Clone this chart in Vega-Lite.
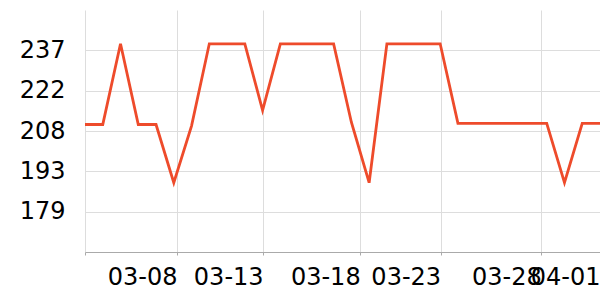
{
  "$schema": "https://vega.github.io/schema/vega-lite/v6.json",
  "width": 515,
  "height": 242,
  "autosize": {"type": "none"},
  "padding": {"left": 85, "top": 10, "right": 0, "bottom": 48},
  "background": "white",
  "config": {
    "view": {"stroke": null},
    "font": "DejaVu Sans"
  },
  "data": {
    "values": [
      {"date": "2024-03-03", "value": 210.1},
      {"date": "2024-03-04", "value": 210.1},
      {"date": "2024-03-05", "value": 239.2},
      {"date": "2024-03-06", "value": 210.1},
      {"date": "2024-03-07", "value": 210.1},
      {"date": "2024-03-08", "value": 189.1},
      {"date": "2024-03-09", "value": 209.6},
      {"date": "2024-03-10", "value": 239.2},
      {"date": "2024-03-11", "value": 239.2},
      {"date": "2024-03-12", "value": 239.2},
      {"date": "2024-03-13", "value": 215.2},
      {"date": "2024-03-14", "value": 239.2},
      {"date": "2024-03-15", "value": 239.2},
      {"date": "2024-03-16", "value": 239.2},
      {"date": "2024-03-17", "value": 239.2},
      {"date": "2024-03-18", "value": 210.9},
      {"date": "2024-03-19", "value": 189.1},
      {"date": "2024-03-20", "value": 239.2},
      {"date": "2024-03-21", "value": 239.2},
      {"date": "2024-03-22", "value": 239.2},
      {"date": "2024-03-23", "value": 239.2},
      {"date": "2024-03-24", "value": 210.5},
      {"date": "2024-03-25", "value": 210.5},
      {"date": "2024-03-26", "value": 210.5},
      {"date": "2024-03-27", "value": 210.5},
      {"date": "2024-03-28", "value": 210.5},
      {"date": "2024-03-29", "value": 210.5},
      {"date": "2024-03-30", "value": 189.1},
      {"date": "2024-03-31", "value": 210.5},
      {"date": "2024-04-01", "value": 210.5}
    ]
  },
  "mark": {"type": "line", "color": "#ee4b2b", "strokeWidth": 2.8, "clip": false},
  "encoding": {
    "x": {
      "field": "date",
      "type": "temporal",
      "title": null,
      "scale": {"type": "utc", "domain": [{"year": 2024, "month": 3, "date": 3, "utc": true}, {"year": 2024, "month": 4, "date": 1, "utc": true}], "nice": false},
      "axis": {
        "values": [
          {"year": 2024, "month": 3, "date": 3, "utc": true},
          {"year": 2024, "month": 3, "date": 8, "hours": 4, "minutes": 25, "utc": true},
          {"year": 2024, "month": 3, "date": 13, "hours": 0, "minutes": 42, "utc": true},
          {"year": 2024, "month": 3, "date": 18, "hours": 11, "minutes": 53, "utc": true},
          {"year": 2024, "month": 3, "date": 23, "hours": 0, "minutes": 36, "utc": true},
          {"year": 2024, "month": 3, "date": 28, "hours": 16, "minutes": 38, "utc": true},
          {"year": 2024, "month": 4, "date": 1, "utc": true}
        ],
        "labelExpr": "datum.index == 0 ? '' : utcFormat(datum.value, '%m-%d')",
        "labelAlign": "right",
        "labelFlush": false,
        "labelOverlap": false,
        "labelBound": false,
        "labelFontSize": 24,
        "labelColor": "#000000",
        "labelPadding": 10,
        "tickSize": 3,
        "tickColor": "#aaaaaa",
        "domainColor": "#aaaaaa",
        "grid": true,
        "gridColor": "#dddddd"
      }
    },
    "y": {
      "field": "value",
      "type": "quantitative",
      "title": null,
      "scale": {"domain": [164.1, 251.4], "nice": false, "zero": false},
      "axis": {
        "values": [178.65, 193.2, 207.75, 222.3, 236.85],
        "format": ".0f",
        "labelFontSize": 24,
        "labelColor": "#000000",
        "labelPadding": 20,
        "ticks": false,
        "domain": false,
        "grid": true,
        "gridColor": "#dddddd"
      }
    }
  }
}
